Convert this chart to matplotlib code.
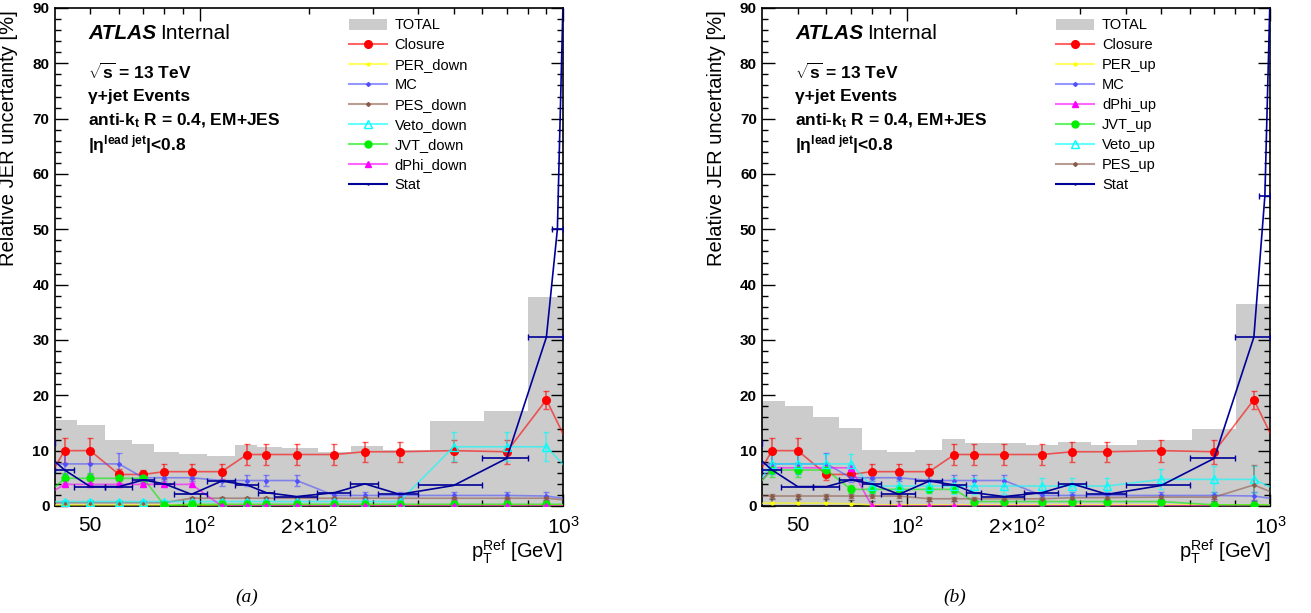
import numpy as np
import matplotlib
matplotlib.use('Agg')
import matplotlib.pyplot as plt
from matplotlib.lines import Line2D
from matplotlib.patches import Patch
from matplotlib.colors import to_rgba
from matplotlib.ticker import FixedLocator, FuncFormatter, MultipleLocator

plt.rcParams['font.family'] = ['Liberation Sans', 'DejaVu Sans']
plt.rcParams['mathtext.fontset'] = 'custom'
plt.rcParams['mathtext.rm'] = 'Liberation Sans'
plt.rcParams['mathtext.it'] = 'Liberation Sans:italic'
plt.rcParams['mathtext.bf'] = 'Liberation Sans:bold'

# --------------------------------------------------
# データ
# --------------------------------------------------
# 点のビン境界 (GeV) -- 両端は軸の外
pt_bins = [30, 40, 45, 55, 65, 75, 85, 105, 125, 145, 160, 210, 260, 310, 400, 600, 800, 1000, 1500]

# TOTAL ヒストグラム
total_bins = [40, 46, 55, 65, 75, 88, 105, 125, 144, 169, 212, 261, 320, 430, 607, 802, 1000]
total_a = [15.5, 14.6, 11.9, 11.2, 9.8, 9.4, 9.0, 11.0, 10.7, 10.4, 9.7, 10.9, 10.2, 15.4, 17.2, 37.8]
total_b = [18.9, 18.1, 16.0, 14.1, 10.2, 9.8, 10.1, 12.1, 11.4, 11.3, 11.1, 11.6, 11.0, 11.9, 14.0, 36.5]

# 共通の系統
closure = [0.5, 10.0, 10.0, 5.7, 5.7, 6.2, 6.2, 6.2, 9.3, 9.3, 9.3, 9.3, 9.8, 9.8, 10.0, 9.8, 19.2, 0.0]
closure_err = [0.5, 2.2, 2.2, 1.0, 0.8, 1.4, 1.4, 1.4, 1.9, 1.9, 1.9, 1.9, 1.8, 1.8, 2.0, 2.2, 1.6, 0.5]
mc = [7.6, 7.6, 7.6, 7.6, 5.1, 5.1, 5.1, 4.6, 4.6, 4.6, 4.6, 1.9, 1.9, 1.9, 1.9, 1.9, 1.8, 0.5]
mc_err = [0.5, 1.9, 1.9, 1.9, 0.7, 0.6, 0.6, 1.0, 1.0, 1.0, 1.0, 0.6, 0.6, 0.6, 0.7, 0.7, 0.8, 0.3]

# (a) down 変動
per_down = [0.2] * 18
per_down_err = [0.7] * 18
pes_down = [0.5, 0.6, 0.6, 0.6, 0.6, 0.6, 1.4, 1.4, 1.4, 1.4, 1.4, 1.4, 1.4, 1.4, 1.4, 1.4, 1.4, 0.5]
pes_down_err = [0.3] * 18
veto_down = [0.8] * 14 + [10.7, 10.7, 10.7, 0.8]
veto_down_err = [0.3] * 14 + [2.6, 2.6, 2.6, 0.3]
jvt_down = [0.0, 5.0, 5.0, 5.0, 5.0, 0.1, 0.3, 0.3, 0.3, 0.3, 0.3, 0.3, 0.3, 0.3, 0.3, 0.3, 0.3, 0.3]
jvt_down_err = [0.3, 0.9, 0.9, 0.9, 0.9] + [0.3] * 13
dphi_down = [0.6, 3.9, 3.9, 3.9, 3.9, 3.9, 3.9] + [0.0] * 11
dphi_down_err = [0.3] * 18

# (b) up 変動
per_up = [0.5, 0.5, 0.5, 0.5, 0.4] + [0.2] * 13
per_up_err = [0.7] * 18
dphi_up = [0.0, 6.9, 6.9, 6.9, 6.9] + [0.0] * 13
dphi_up_err = [0.3, 0.5, 0.5, 0.5, 0.5] + [0.3] * 13
jvt_up = [0.6, 6.5, 6.5, 6.5, 3.0, 3.0, 3.0, 3.0, 3.0, 0.8, 0.8, 0.8, 0.8, 0.8, 0.8, 0.2, 0.2, 0.1]
jvt_up_err = [0.3, 1.2, 1.2, 1.2, 0.7, 0.7, 0.7, 0.7, 0.7] + [0.3] * 9
veto_up = [0.1, 7.6, 7.6, 7.6, 7.6, 3.6, 3.6, 3.6, 3.6, 3.6, 3.6, 3.6, 3.6, 3.6, 4.8, 4.8, 4.8, 0.5]
veto_up_err = [0.3, 1.8, 1.8, 1.8, 1.8, 1.2, 1.2, 1.2, 1.4, 1.4, 1.5, 1.5, 1.4, 1.4, 1.8, 2.5, 2.5, 0.3]
pes_up = [1.8, 1.8, 1.8, 1.8, 1.8, 1.8, 1.8, 1.3, 1.3, 1.3, 1.3, 1.3, 1.5, 1.5, 1.6, 1.6, 3.8, 0.0]
pes_up_err = [0.4] * 16 + [3.6, 0.3]

# Stat（横エラーバー付き）
stat = [11.4, 6.5, 3.5, 3.5, 4.7, 4.0, 2.1, 4.5, 3.8, 2.4, 1.7, 2.4, 4.0, 2.1, 3.7, 8.6, 30.5]
stat_tail_x = [965, 1100]
stat_tail_lo = [930, 1000]
stat_tail_hi = [1000, 1200]
stat_tail_a = [50.0, 200.0]
stat_tail_b = [56.0, 200.0]

# --------------------------------------------------
# スタイル
# --------------------------------------------------
sty = {
    'Closure': dict(color='#ff0000', marker='o', ms=5.5),
    'PER': dict(color='#ffff00', marker='o', ms=2, ecolor='#333333'),
    'MC': dict(color='#5050ff', marker='D', ms=2),
    'PES': dict(color='#8b5a4a', marker='D', ms=2),
    'Veto': dict(color='#00ffff', marker='^', ms=5.5, mfc='none'),
    'JVT': dict(color='#00ee00', marker='o', ms=5),
    'dPhi': dict(color='#ff00ff', marker='^', ms=5),
}
stat_color = '#000099'
total_color = '#cccccc'

edges = np.array(pt_bins, dtype=float)
pt_x = 0.5 * (edges[:-1] + edges[1:])


def draw(ax, key, y, err):
    s = sty[key]
    c = s['color']
    lc = to_rgba(c, 0.6)
    ec = to_rgba(s.get('ecolor', c), 0.6)
    mfc = s.get('mfc', c)
    ax.errorbar(pt_x, y, yerr=err, color=lc, ecolor=ec, lw=1.2, elinewidth=1.2,
                capsize=2, marker=s['marker'], ms=s['ms'], mfc=mfc, mec=c, mew=1,
                zorder=3, clip_on=True)


def handle(key):
    s = sty[key]
    c = s['color']
    return Line2D([], [], color=to_rgba(c, 0.6), lw=1.5, marker=s['marker'], ms=s['ms'],
                  mfc=s.get('mfc', c), mec=c, mew=1)


def draw_stat(ax, tail):
    sx = np.concatenate([pt_x[:17], stat_tail_x])
    lo = np.concatenate([edges[:17], stat_tail_lo])
    hi = np.concatenate([edges[1:18], stat_tail_hi])
    sy = stat + tail
    ax.errorbar(sx, sy, xerr=[sx - lo, hi - sx], color=stat_color, lw=1.2,
                elinewidth=1.2, capsize=2, zorder=4)


def setup(ax, series_labels, caption, total):
    ax.stairs(total, total_bins, fill=True, color=total_color, zorder=1)
    ax.set_xscale('log')
    ax.set_xlim(40, 1000)
    ax.set_ylim(0, 90)
    ax.xaxis.set_major_locator(FixedLocator([100, 1000]))
    ax.xaxis.set_major_formatter(FuncFormatter(lambda v, p: r'$10^{%d}$' % round(np.log10(v))))
    ax.xaxis.set_minor_locator(FixedLocator([50, 60, 70, 80, 90, 200, 300, 400, 500, 600, 700, 800, 900]))
    labs = {50: '50', 200: r'$2\!\times\!10^{2}$'}
    ax.xaxis.set_minor_formatter(FuncFormatter(lambda v, p: labs.get(int(round(v)), '')))
    ax.yaxis.set_major_locator(MultipleLocator(10))
    ax.yaxis.set_minor_locator(MultipleLocator(2))
    ax.tick_params(which='both', direction='in', top=True, right=True)
    ax.tick_params(axis='y', which='major', length=9, width=1, labelsize=11, pad=4)
    ax.tick_params(axis='y', which='minor', length=4.5, width=1)
    ax.tick_params(axis='x', which='major', length=9, width=1, labelsize=15, pad=7)
    ax.tick_params(axis='x', which='minor', length=4.5, width=1, labelsize=15, pad=7)
    for lab in ax.get_yticklabels():
        lab.set_fontweight('bold')
    for sp in ax.spines.values():
        sp.set_linewidth(1.2)

    ax.set_ylabel('Relative JER uncertainty [%]', fontsize=14.5, loc='top')
    ax.yaxis.set_label_coords(-0.072, 0.996)
    ax.set_xlabel(r'p$_{\mathrm{T}}^{\mathrm{Ref}}$ [GeV]', fontsize=14.5, loc='right')
    ax.xaxis.set_label_coords(1.0, -0.063)

    # ATLAS ラベル
    ax.text(0.065, 0.948, 'ATLAS', transform=ax.transAxes, fontsize=15,
            fontweight='bold', fontstyle='italic', va='center')
    ax.text(0.206, 0.948, 'Internal', transform=ax.transAxes, fontsize=15, va='center')
    info = [r'$\sqrt{\mathbf{s}}$ = 13 TeV',
            'γ+jet Events',
            r'anti-$\mathbf{k}_{\mathbf{t}}$ R = 0.4, EM+JES',
            r'|η$^{\mathbf{lead\ jet}}$|<0.8']
    for i, t in enumerate(info):
        ax.text(0.065, 0.8715 - 0.0487 * i, t, transform=ax.transAxes, fontsize=12.5,
                fontweight='bold', va='center')

    handles = [Patch(facecolor=total_color, edgecolor='none')]
    names = ['TOTAL']
    for key, name in series_labels:
        if key == 'Stat':
            handles.append(Line2D([], [], color=stat_color, lw=1.5, marker='.', ms=1.5))
        else:
            handles.append(handle(key))
        names.append(name)
    ax.legend(handles, names, loc='upper left', bbox_to_anchor=(0.578, 0.979), frameon=False,
              fontsize=10.5, labelspacing=0.41, handlelength=2.6, handletextpad=0.55,
              borderpad=0, borderaxespad=0, handleheight=0.85)

    ax.figure.text(ax.get_position().x0 + 0.1464, 0.026, caption, fontsize=14,
                   family='Liberation Serif', fontstyle='italic', ha='center', va='center')


fig = plt.figure(figsize=(13.11, 6.13), dpi=100)
ax_a = fig.add_axes([0.04195, 0.1746, 0.3875, 0.8124])
ax_b = fig.add_axes([0.5816, 0.1746, 0.3875, 0.8124])

# ---- (a) ----
draw(ax_a, 'Closure', closure, closure_err)
draw(ax_a, 'PER', per_down, per_down_err)
draw(ax_a, 'MC', mc, mc_err)
draw(ax_a, 'PES', pes_down, pes_down_err)
draw(ax_a, 'Veto', veto_down, veto_down_err)
draw(ax_a, 'JVT', jvt_down, jvt_down_err)
draw(ax_a, 'dPhi', dphi_down, dphi_down_err)
draw_stat(ax_a, stat_tail_a)
setup(ax_a, [('Closure', 'Closure'), ('PER', 'PER_down'), ('MC', 'MC'), ('PES', 'PES_down'),
             ('Veto', 'Veto_down'), ('JVT', 'JVT_down'), ('dPhi', 'dPhi_down'), ('Stat', 'Stat')],
      '(a)', total_a)

# ---- (b) ----
draw(ax_b, 'Closure', closure, closure_err)
draw(ax_b, 'PER', per_up, per_up_err)
draw(ax_b, 'MC', mc, mc_err)
draw(ax_b, 'dPhi', dphi_up, dphi_up_err)
draw(ax_b, 'JVT', jvt_up, jvt_up_err)
draw(ax_b, 'Veto', veto_up, veto_up_err)
draw(ax_b, 'PES', pes_up, pes_up_err)
draw_stat(ax_b, stat_tail_b)
setup(ax_b, [('Closure', 'Closure'), ('PER', 'PER_up'), ('MC', 'MC'), ('dPhi', 'dPhi_up'),
             ('JVT', 'JVT_up'), ('Veto', 'Veto_up'), ('PES', 'PES_up'), ('Stat', 'Stat')],
      '(b)', total_b)

fig.savefig('out.png', dpi=100)
